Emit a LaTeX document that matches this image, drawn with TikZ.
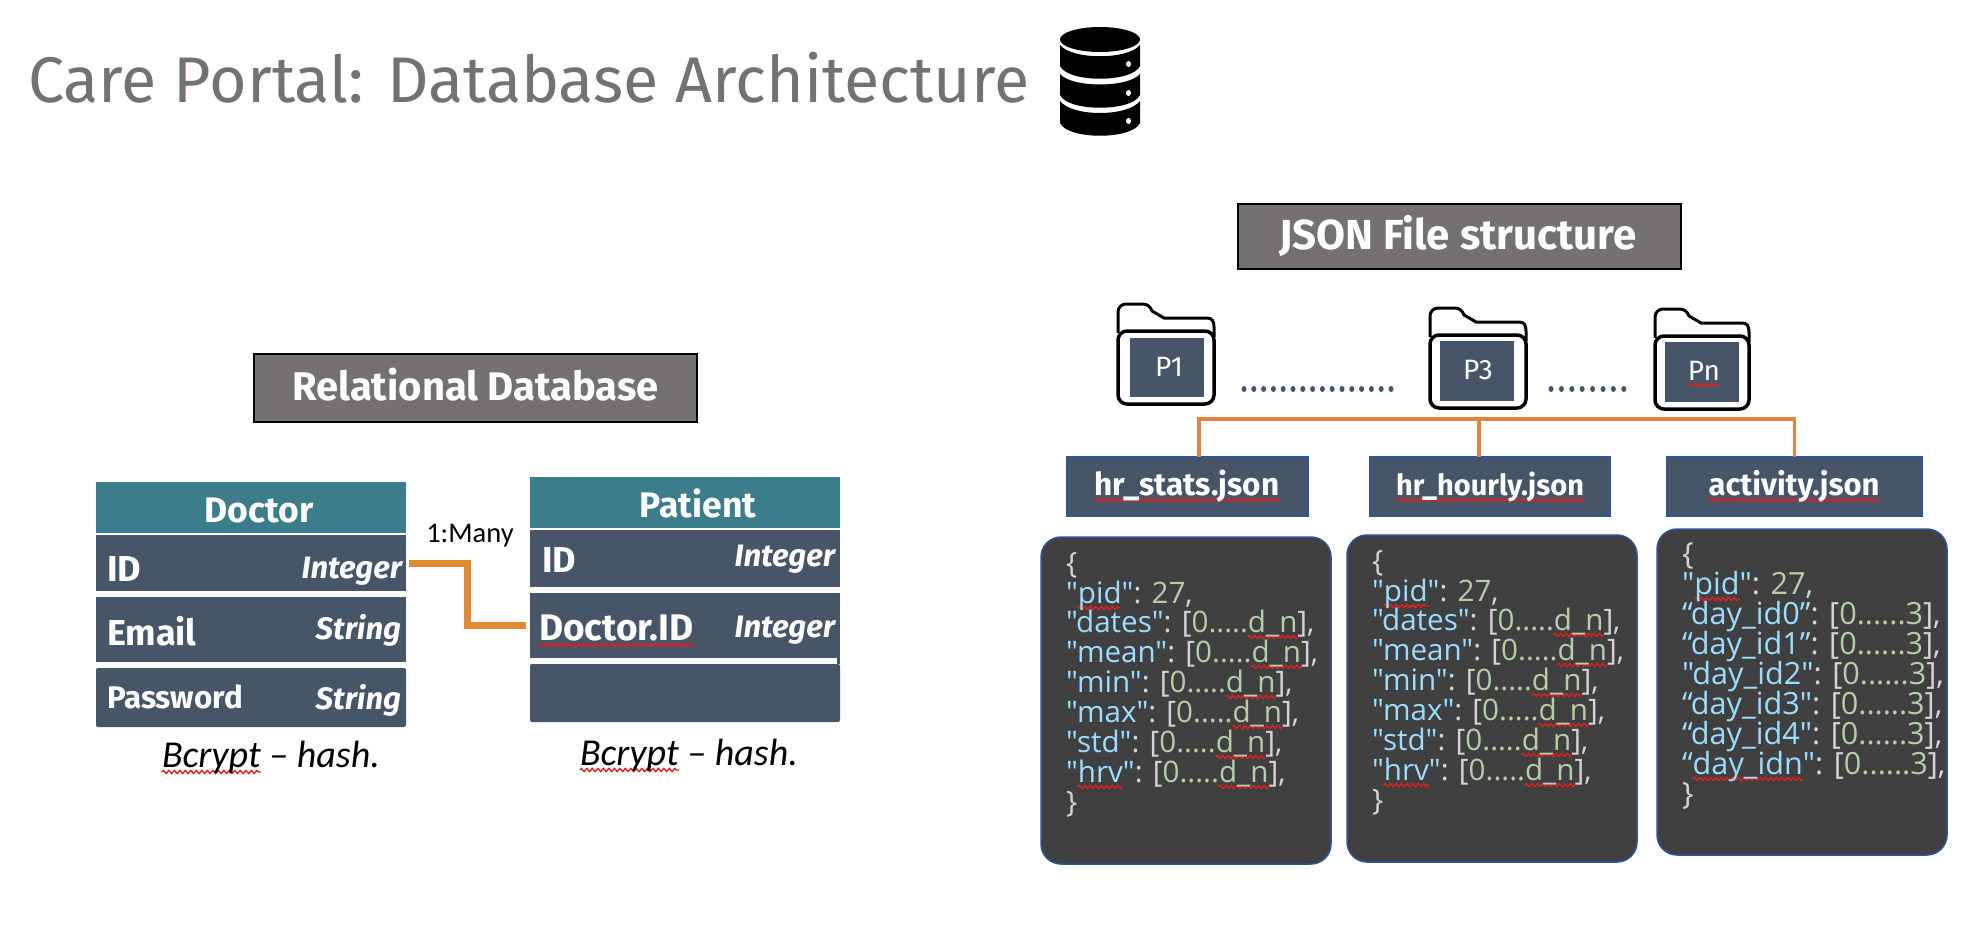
\documentclass[tikz,border=0pt]{standalone}
\usepackage{fontspec}
\usetikzlibrary{decorations.pathmorphing}
\setmainfont{Fira Sans}
\newfontfamily\jsonfont{Open Sans}
\newfontfamily\calfont{Carlito}
\definecolor{titlegrey}{HTML}{767171}
\definecolor{teal}{HTML}{3B7D8A}
\definecolor{slate}{HTML}{475569}
\definecolor{slatetwo}{HTML}{44546A}
\definecolor{conn}{HTML}{E28A33}
\definecolor{treeor}{HTML}{E0843F}
\definecolor{jbg}{HTML}{404040}
\definecolor{jborder}{HTML}{2F5597}
\definecolor{jkey}{HTML}{9CDCFE}
\definecolor{jval}{HTML}{B5CEA8}
\definecolor{jpun}{HTML}{D4D4D4}
\definecolor{sqred}{HTML}{E02020}
\newcommand\fsz[1]{\fontsize{#1pt}{#1pt}\selectfont}
\newsavebox\sqbox
\newcommand\sq[1]{\sbox\sqbox{#1}\rlap{\tikz[overlay,baseline=0pt]{\draw[sqred,line width=1.4pt,decorate,decoration={zigzag,amplitude=1.5pt,segment length=5.5pt}] (0pt,-5pt) -- (\wd\sqbox,-5pt);}}\usebox\sqbox}
\newcommand\K[1]{{\color{jkey}#1}}
\newcommand\V[1]{{\color{jval}#1}}
\newcommand\dn{\sq{\V{d\_n}}}
\newcommand\arr{[\V{0.....}\dn],}
\newcommand\arrb{[\V{0......3}],}
\newcommand\bx[6]{% style,name,x1,y1,x2,y2
  \pgfmathsetmacro\bw{#5-#3}\pgfmathsetmacro\bh{#6-#4}
  \node[#1,minimum width=\bw pt,minimum height=\bh pt] (#2) at ({(#3+#5)/2},{(#4+#6)/2}) {};}
\newcommand\folder[4]{% name,x,y,width
  \begin{scope}[shift={(#2,#3)}]
    \draw[folderline,line width=3pt,fill=white] (1,30) -- (1,9) arc[start angle=180,end angle=270,radius=8,y=1pt] -- (25,1) .. controls (30,1) and (33,3) .. (35,8) -- (47,15) -- ({#4-8},15) .. controls ({#4-3},15) and ({#4-1},18) .. ({#4-1},24) -- ({#4-1},34);
    \draw[folderline,line width=3.5pt,fill=white,rounded corners=9pt] (1,28) rectangle ({#4-1},101);
  \end{scope}}
\tikzset{
  folderline/.style={black},
  hdr/.style={fill=titlegrey,draw=black,line width=1.2pt,inner sep=0pt,outer sep=0pt},
  tblhead/.style={fill=teal,inner sep=0pt,outer sep=0pt},
  tblrow/.style={fill=slate,inner sep=0pt,outer sep=0pt},
  tblend/.style={fill=slate,rounded corners=2pt,inner sep=0pt,outer sep=0pt},
  filebox/.style={fill=slate,draw=jborder,line width=1.5pt,inner sep=0pt,outer sep=0pt},
  pbox/.style={fill=slate,inner sep=0pt,outer sep=0pt},
  jbox/.style={fill=jbg,draw=jborder,line width=1.5pt,rounded corners=20pt,inner sep=0pt,outer sep=0pt},
  lab/.style={inner sep=0pt,outer sep=0pt,text=white},
  hdrtxt/.style={lab,anchor=base,font=\bfseries\fsz{40}},
  headtxt/.style={lab,anchor=base,font=\bfseries\fsz{35.5}},
  fieldtxt/.style={lab,anchor=base west,font=\bfseries\fsz{36}},
  typetxt/.style={lab,anchor=base east,font=\bfseries\itshape\fsz{31}},
  filetxt/.style={lab,anchor=base,font=\bfseries\fsz{31}},
  ptxt/.style={lab,anchor=base,font=\fsz{28}},
  jl/.style={lab,anchor=base west,text=jpun,font=\jsonfont\fsz{29.6}},
  jlb/.style={jl,font=\jsonfont\fsz{30.6}},
  hashtxt/.style={inner sep=0pt,outer sep=0pt,anchor=base west,font=\calfont\itshape\fsz{38}},
  conntor/.style={conn,line width=7pt},
  treeline/.style={treeor,line width=3.5pt},
  jdots/.style={fill=slatetwo,draw=none},
}
\begin{document}
\begin{tikzpicture}[x=1pt,y=-1pt]
\fill[white] (0,0) rectangle (1965,936);
\useasboundingbox (0,0) rectangle (1965,936);

% title
\node[inner sep=0pt,anchor=base west,text=titlegrey,font=\fsz{64.5}] (title) at (28,103) {Care Portal: Database Architecture};

% database icon
\begin{scope}
  \fill[black] (1100,39.5) ellipse[x radius=40,y radius=12.5];
  \fill[black] (1060,45) .. controls (1072,60) and (1128,60) .. (1140,45) -- (1140,66) .. controls (1132,83) and (1068,83) .. (1060,66) -- cycle;
  \fill[black] (1060,74) .. controls (1072,88) and (1128,88) .. (1140,74) -- (1140,95) .. controls (1132,112) and (1068,112) .. (1060,95) -- cycle;
  \fill[black] (1060,101) .. controls (1072,117) and (1128,117) .. (1140,101) -- (1140,123) .. controls (1132,140) and (1068,140) .. (1060,123) -- cycle;
  \fill[white] (1128.5,64) ellipse[x radius=2.5,y radius=3];
  \fill[white] (1128.5,93) ellipse[x radius=2.5,y radius=3];
  \fill[white] (1128.5,121) ellipse[x radius=2.5,y radius=3];
\end{scope}

% relational database
\bx{hdr}{relhdr}{254}{354}{697}{422}
\node[hdrtxt] (reltxt) at (475.5,400) {Relational Database};

\bx{tblhead}{dochead}{96}{482}{406}{533}
\bx{tblrow}{did}{96}{535}{406}{591}
\bx{tblrow}{demail}{96}{597}{406}{662}
\bx{tblend}{dpass}{96}{668}{406}{727}
\node[headtxt] (t1) at (259,522) {Doctor};
\node[fieldtxt] (t2) at (107,581) {ID};
\node[typetxt] (t3) at (402,578) {Integer};
\node[fieldtxt] (t4) at (107,645) {Email};
\node[typetxt] (t5) at (401,639) {String};
\node[fieldtxt,font=\bfseries\fsz{31.3}] (t6) at (107,708) {Password};
\node[typetxt] (t7) at (401,709) {String};

\bx{tblhead}{pathead}{530}{477}{840}{528}
\bx{tblrow}{pid}{530}{530}{840}{587}
\bx{tblrow}{pdid}{530}{593}{840}{664}
\bx{tblend}{pblank}{530}{664}{840}{722}
\fill[white] (530,658) rectangle (837,664);
\node[headtxt] (t8) at (698,517) {Patient};
\node[fieldtxt] (t9) at (542,572) {ID};
\node[typetxt] (t10) at (835,566) {Integer};
\node[fieldtxt,font=\bfseries\fsz{37}] (t11) at (539,640) {\sq{Doctor.ID}};
\node[typetxt] (t12) at (835,637) {Integer};

\draw[conntor] ([xshift=3pt]did.east) -- ++(58,0) |- ([xshift=-4pt,yshift=3pt]pdid.west);
\node[inner sep=0pt,anchor=base,font=\calfont\fsz{28.5}] (many) at (470,542) {1:Many};
\node[hashtxt] (h1) at (162,767) {\sq{Bcrypt} – hash.};
\node[hashtxt] (h2) at (580,765) {\sq{Bcrypt} – hash.};

% json structure
\bx{hdr}{jsonhdr}{1238}{204}{1681}{269}
\node[hdrtxt,font=\bfseries\fsz{42}] (jsontxt) at (1458,249) {JSON File structure};

\folder{f1}{1117}{303}{98}
\folder{f3}{1429}{307}{98}
\folder{fn}{1654}{308}{96}
\bx{pbox}{p1}{1130}{338}{1204}{397}
\bx{pbox}{p3}{1440}{341}{1514}{401}
\bx{pbox}{pn}{1665}{342}{1739}{402}
\node[ptxt] (p1t) at (1169,376) {P1};
\node[ptxt] (p3t) at (1478,379) {P3};
\node[ptxt] (pnt) at (1704,380) {\sq{Pn}};

\foreach \i in {0,...,15} \fill[jdots] ({1244+\i*9.8},389) ellipse[x radius=2.5,y radius=3];
\foreach \i in {0,...,7} \fill[jdots] ({1551+\i*10.4},389) ellipse[x radius=2.5,y radius=3];

\bx{filebox}{fs}{1067}{457}{1308}{516}
\bx{filebox}{fh}{1370}{457}{1610}{516}
\bx{filebox}{fa}{1667}{457}{1922}{516}
\node[filetxt,font=\bfseries\fsz{31.5}] (fst) at (1187,495) {\sq{hr\_stats.json}};
\node[filetxt,font=\bfseries\fsz{29}] (fht) at (1490,495) {\sq{hr\_hourly.json}};
\node[filetxt] (fat) at (1794,495) {\sq{activity.json}};

\coordinate (bus) at (1479,419);
\draw[treeline] ([xshift=11.5pt]fs.north) |- (bus) -| (fa.north);
\draw[treeline] ([xshift=-11pt]fh.north) -- (bus);

% json boxes
\bx{jbox}{j1}{1041}{537}{1331}{864}
\bx{jbox}{j2}{1347}{535}{1637}{862}
\bx{jbox}{j3}{1657}{529}{1947}{855}

\node[jl] (a0) at (1066,573) {\{};
\node[jl] (a1) at (1066,603) {\K{"\sq{pid}"}: \V{27},};
\node[jl] (a2) at (1066,632) {\K{"dates"}: \arr};
\node[jl] (a3) at (1066,662) {\K{"mean"}: \arr};
\node[jl] (a4) at (1066,692) {\K{"min"}: \arr};
\node[jl] (a5) at (1066,722) {\K{"max"}: \arr};
\node[jl] (a6) at (1066,752) {\K{"std"}: \arr};
\node[jl] (a7) at (1066,782) {\K{"\sq{hrv}"}: \arr};
\node[jl] (a8) at (1066,812) {\}};

\node[jl] (b0) at (1372,571) {\{};
\node[jl] (b1) at (1372,601) {\K{"\sq{pid}"}: \V{27},};
\node[jl] (b2) at (1372,630) {\K{"dates"}: \arr};
\node[jl] (b3) at (1372,660) {\K{"mean"}: \arr};
\node[jl] (b4) at (1372,690) {\K{"min"}: \arr};
\node[jl] (b5) at (1372,720) {\K{"max"}: \arr};
\node[jl] (b6) at (1372,750) {\K{"std"}: \arr};
\node[jl] (b7) at (1372,780) {\K{"\sq{hrv}"}: \arr};
\node[jl] (b8) at (1372,810) {\}};

\node[jlb] (c0) at (1682,564) {\{};
\node[jlb] (c1) at (1682,594) {\K{"\sq{pid}"}: \V{27},};
\node[jlb] (c2) at (1682,624) {\K{“day\_id0”}: \arrb};
\node[jlb] (c3) at (1682,654) {\K{“day\_id1”}: \arrb};
\node[jlb] (c4) at (1682,684) {\K{"day\_id2"}: \arrb};
\node[jlb] (c5) at (1682,714) {\K{“day\_id3"}: \arrb};
\node[jlb] (c6) at (1682,744) {\K{“day\_id4"}: \arrb};
\node[jlb] (c7) at (1682,774) {\K{“\sq{day\_idn}"}: \arrb};
\node[jlb] (c8) at (1682,804) {\}};
\end{tikzpicture}
\end{document}
